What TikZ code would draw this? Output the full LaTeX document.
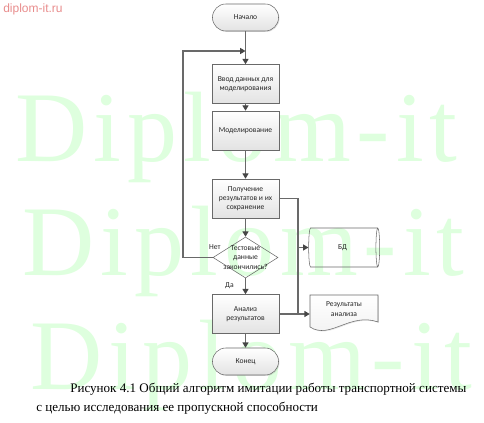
\documentclass[tikz,border=0pt]{standalone}
\usepackage{fontspec}
\setmainfont{Liberation Serif}
\newfontfamily\flowfont{Carlito}
\newfontfamily\sitefont{Liberation Sans}
\newfontfamily\markfont[LetterSpace=6]{Liberation Serif}
\usetikzlibrary{shapes.geometric,arrows.meta,shadows}

\definecolor{markgreen}{RGB}{222,255,222}
\definecolor{sitered}{RGB}{232,140,140}
\definecolor{linegray}{RGB}{105,105,105}
\definecolor{tipgray}{RGB}{70,70,70}

\tikzset{
  flow/.style={font=\flowfont\fontsize{5.7}{6.9}\selectfont, align=center, text=black!85},
  shade/.style={top color=white, bottom color=gray!22,
    drop shadow={opacity=0.25, shadow xshift=0.7pt, shadow yshift=-0.7pt}},
  terminal/.style={flow, shade, draw=linegray, rounded corners=10pt,
    minimum width=49.5pt, minimum height=20.25pt},
  process/.style={flow, shade, draw=linegray, minimum width=50.25pt, minimum height=29.25pt},
  decision/.style={diamond, draw=linegray, minimum width=48.75pt, minimum height=30.75pt, inner sep=0pt},
  store/.style={flow, cylinder, draw=linegray, shape aspect=0.25,
    minimum width=29.25pt, minimum height=53.25pt},
  link/.style={draw=linegray, line width=0.9pt},
  arrow/.style={link, -{Triangle[width=4.5pt, length=4pt, color=tipgray]}},
  watermark/.style={font=\markfont\fontsize{75}{75}\selectfont, text=markgreen, inner sep=0pt},
  caption/.style={font=\fontsize{9.8}{12}\selectfont, inner sep=0pt}
}

\begin{document}
\begin{tikzpicture}[x=0.75pt, y=-0.75pt]
  \useasboundingbox (0,0) rectangle (484,423);
  % watermark behind everything
  \node[watermark, anchor=base west] (mark1) at (15,162) {Diplom-it};
  \node[watermark, anchor=base west] (mark2) at (22,276) {Diplom-it};
  \node[watermark, anchor=base west] (mark3) at (30,389) {Diplom-it};
  \node[anchor=base west, inner sep=0pt, text=sitered, font=\sitefont\fontsize{9}{9}\selectfont] (site) at (3,12.5) {diplom-it.ru};

  % main column
  \node[terminal] (start) at (245.5,17.5) {Начало};
  \node[process] (input) at (245.5,84) {Ввод данных для\\моделирования};
  \node[process] (model) at (245.5,130.5) {Моделирование};
  \node[process] (save) at (245.5,198.5) {Получение\\результатов и их\\сохранение};
  \node[decision] (test) at (245.5,257.5) {};
  \node[flow] (testtext) at (test) {Тестовые\\данные\\закончились?};
  \node[process] (anal) at (245.5,314) {Анализ\\результатов};
  \node[terminal] (stop) at (245.5,361.5) {Конец};

  % side outputs
  \node[store] (base) at (342.5,247.5) {БД};
  \draw[draw=linegray, top color=white, bottom color=gray!12,
    drop shadow={opacity=0.2, shadow xshift=0.7pt, shadow yshift=-0.7pt}]
    (310,295) -- (378,295) -- (378,322) .. controls (350,312) and (330,340) .. (310,327) -- cycle;
  \node[flow, minimum width=51pt] (report) at (344,309) {Результаты\\анализа};

  % connectors
  \coordinate (entry) at (245.5,51);
  \coordinate (corner) at (183,51);
  \coordinate (merge) at (298,314);
  \draw[arrow] (start) -- (input);
  \draw[arrow] (input) -- (model);
  \draw[arrow] (model) -- (save);
  \draw[arrow] (save) -- (test);
  \draw[arrow] (test) -- (anal);
  \draw[arrow] (anal) -- (stop);
  \draw[arrow] (test.west) -| (corner) -- (entry);
  \draw[link] (save.east) -| (merge);
  \coordinate (tap) at (merge |- base.west);
  \draw[arrow] (tap) -- (base.west);
  \draw[arrow] (anal.east) -- (anal.east -| report.west);

  % branch labels
  \node[flow, anchor=base] (no) at ([xshift=1.5pt, yshift=6pt]test.west) {Нет};
  \node[flow, anchor=base] (yes) at ([xshift=-12pt, yshift=-7pt]test.south) {Да};

  % caption
  \node[caption, anchor=base west] (cap1) at (70,392) {Рисунок 4.1 Общий алгоритм имитации работы транспортной системы};
  \node[caption, anchor=base west] (cap2) at (36,411) {с целью исследования ее пропускной способности};
\end{tikzpicture}
\end{document}
